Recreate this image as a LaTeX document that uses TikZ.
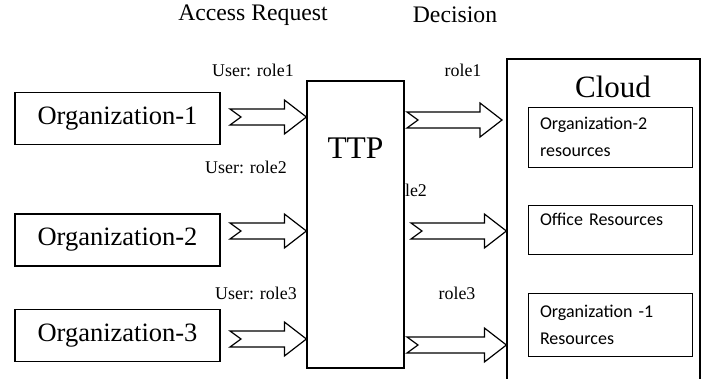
\documentclass[tikz,border=0pt]{standalone}
\usepackage{fontspec}
\setmainfont{Liberation Serif}
\newfontfamily\carlito{Carlito}
\usetikzlibrary{calc}
\pgfdeclarelayer{fondo}
\pgfsetlayers{fondo, main}
\tikzstyle{org}=[rectangle,draw=black,line width=1.2pt,fill=white,minimum width=205pt,minimum height=52pt,inner sep=0pt,font=\fontsize{26.5}{30}\selectfont]
\tikzstyle{recurso}=[rectangle,draw=black,line width=0.9pt,fill=white,minimum width=164pt,text width=140pt,inner xsep=12pt,align=left,font=\carlito\fontsize{18}{27}\selectfont]
\tikzstyle{etiq}=[inner sep=0pt,font=\fontsize{17.9}{20}\selectfont]
\tikzstyle{titulo}=[inner sep=0pt,font=\fontsize{23.7}{26}\selectfont]
\tikzstyle{grueso}=[draw=black,fill=white,line width=1.2pt,line join=miter]
\newcommand{\flecha}[2]{%
	\draw[grueso] ($(#1)+(0,-8)$) -- ($(#2)+(-22,-8)$) -- ($(#2)+(-22,-17)$) -- (#2) -- ($(#2)+(-22,17)$) -- ($(#2)+(-22,8)$) -- ($(#1)+(0,8)$) -- ($(#1)+(11,0)$) -- cycle;}
\begin{document}
\begin{tikzpicture}[x=1pt,y=-1pt]
		\clip (0,0) rectangle (705,378);
		\node [titulo] (req) at (253,15) {Access Request};
		\node [titulo] (dec) at (455,15) {Decision};
		\node [org] (o1) at (117.5,118.5) {Organization-1};
		\node [org] (o2) at (117.5,240) {Organization-2};
		\node [org] (o3) at (117.5,335.5) {Organization-3};
		\node [rectangle,draw=black,line width=1.2pt,fill=white,minimum width=97pt,minimum height=287pt] (ttp) at (355.5,224.5) {};
		\node [inner sep=0pt,font=\fontsize{31.5}{34}\selectfont] (ttptxt) at (355.5,148) {TTP};
		\node [rectangle,draw=black,line width=1.2pt,fill=white,minimum width=193pt,minimum height=341pt] (nube) at (603.5,229.5) {};
		\node [inner sep=0pt,font=\fontsize{31}{34}\selectfont] (nubetxt) at (613,87) {Cloud};
		\node [recurso,minimum height=60pt] (r1) at (610,137) {Organization-2\\resources};
		\node [recurso,minimum height=49pt] (r2) at (610,229.5) {Office Resources\\[-6pt]\mbox{}};
		\node [recurso,minimum height=63pt] (r3) at (610,324.5) {Organization -1\\Resources};
		\begin{pgfonlayer}{fondo}
			\node [etiq] (u1) at (253,70) {User: role1};
			\node [etiq] (u2) at (246,167) {User: role2};
			\node [etiq] (u3) at (256,293) {User: role3};
			\node [etiq] (d1) at (463,70) {role1};
			\node [etiq] (d2) at (408.5,190) {role2};
			\node [etiq] (d3) at (457,293) {role3};
		\end{pgfonlayer}
		% flechas de entrada
		\coordinate (a1) at (230,117);
		\coordinate (a2) at (230,231);
		\coordinate (a3) at (230,339);
		\coordinate (b1) at (a1 -| ttp.west);
		\coordinate (b2) at (a2 -| ttp.west);
		\coordinate (b3) at (a3 -| ttp.west);
		\flecha{a1}{b1}
		\flecha{a2}{b2}
		\flecha{a3}{b3}
		% flechas de salida
		\coordinate (c1) at (407,120);
		\coordinate (c2) at (411,231);
		\coordinate (c3) at (407,345);
		\coordinate (e1) at (502,120);
		\coordinate (e2) at (c2 -| nube.west);
		\coordinate (e3) at (c3 -| nube.west);
		\flecha{c1}{e1}
		\flecha{c2}{e2}
		\flecha{c3}{e3}
\end{tikzpicture}
\end{document}
